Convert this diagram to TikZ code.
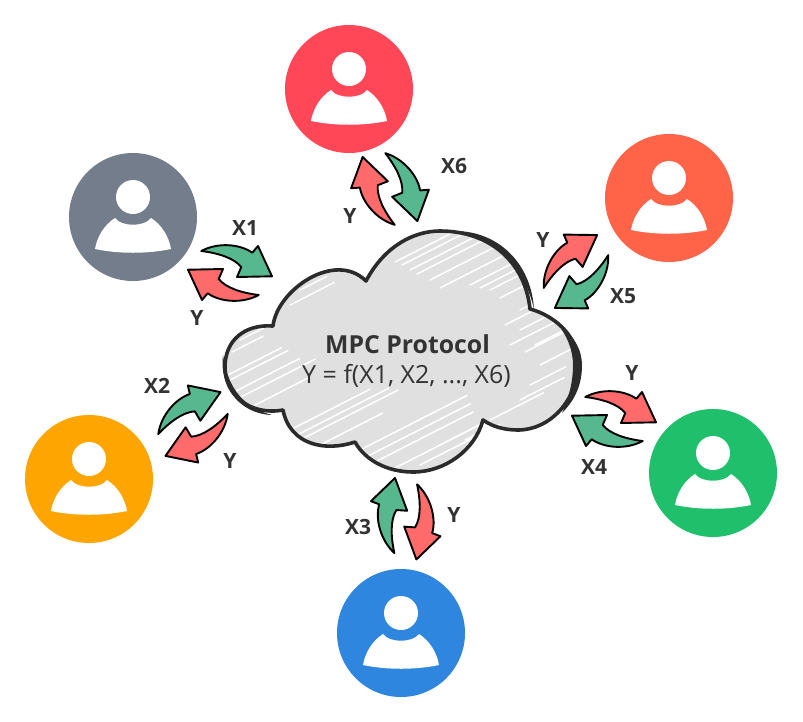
\documentclass[tikz,border=0pt]{standalone}
\usepackage{fontspec}
\setmainfont{Open Sans}
\definecolor{flowgreen}{HTML}{57B78F}
\definecolor{flowred}{HTML}{FF6B6B}
\definecolor{cloudgrey}{HTML}{E0E0E0}
\definecolor{inkgrey}{HTML}{333333}
\definecolor{inkdark}{HTML}{2B2B2B}
\definecolor{userred}{HTML}{FF4757}
\definecolor{userslate}{HTML}{747D8C}
\definecolor{usercoral}{HTML}{FF6348}
\definecolor{usergreen}{HTML}{20BF6B}
\definecolor{userorange}{HTML}{FFA502}
\definecolor{userblue}{HTML}{2E86DE}
\newcommand{\flowshape}{(-28.7,-22) .. controls (-12,-31) and (10,-29) .. (22.3,-20.3) -- (28,-27) -- (42,3.3) -- (7,4) -- (11.3,-6) .. controls (4,-15) and (-12,-20) .. (-28.7,-22) -- cycle}
\newcommand{\cloudshape}{(273,326) .. controls (277,290) and (335,250) .. (366,281)
    .. controls (385,245) and (415,231) .. (440,231) .. controls (490,231) and (525,262) .. (530,309)
    .. controls (553,315) and (578,335) .. (578,363) .. controls (578,400) and (550,430) .. (518,430) .. controls (505,430) and (493,427) .. (483,420)
    .. controls (475,450) and (445,472) .. (413,472) .. controls (387,472) and (365,460) .. (355,442)
    .. controls (325,452) and (290,445) .. (283,410)
    .. controls (250,416) and (225,395) .. (225,367) .. controls (225,340) and (245,324) .. (273,326) -- cycle}
\tikzset{
    person/.style={circle, minimum size=128pt, inner sep=0pt},
    flowarrow/.style={draw=black, line width=1.9pt, line join=round},
    flowlabel/.style={font=\fontsize{21}{24}\selectfont\bfseries, text=inkgrey, inner sep=0pt},
    personpic/.pic={
        \fill[white] (0,-20) circle (17);
        \fill[white] (-18,1) .. controls (-12,10) and (12,10) .. (18,1) .. controls (29,8) and (36,20) .. (38,32) .. controls (14,37) and (-14,37) .. (-38,32) .. controls (-36,20) and (-29,8) .. (-18,1) -- cycle;
    },
    arrowpair/.pic={
        \draw[flowarrow, fill=flowgreen] \flowshape;
        \draw[flowarrow, fill=flowred, rotate=180] \flowshape;
    }
}
\begin{document}
\begin{tikzpicture}[x=1pt, y=-1pt]
    \useasboundingbox (0,0) rectangle (803,721);
    \node[person, fill=userred] (userX6) at (349,89) {};
    \node[person, fill=userslate] (userX1) at (133,217) {};
    \node[person, fill=usercoral] (userX5) at (669,198) {};
    \node[person, fill=usergreen] (userX4) at (713,473) {};
    \node[person, fill=userorange] (userX2) at (89,479) {};
    \node[person, fill=userblue] (userX3) at (401,633) {};
    \foreach \user in {userX1,userX2,userX3,userX4,userX5,userX6}
        \pic at (\user) {personpic};
    \fill[cloudgrey] \cloudshape;
    \begin{scope}
        \clip \cloudshape;
        \foreach \x/\y/\len in {395/262/90,402/265/100,410/270/110,417/274/95,430/280/100,440/288/90,470/285/65,480/288/55,490/290/50,500/298/40,520/310/30,505/325/60,520/330/55,535/345/45,510/345/65,525/352/50,540/365/40,228/375/60,230/380/65,228/395/80,235/400/90,240/340/30,232/352/35,255/405/60,290/430/90,295/436/105,300/440/110,320/445/70,360/450/120,368/456/115,375/462/110,395/468/100,420/465/90,440/445/50,465/440/30,490/420/60,520/400/50,530/385/40,300/290/30,290/305/50}
            \draw[white, line width=1.5pt, line cap=round] (\x,\y) to ++(27:\len pt);
    \end{scope}
    \draw[inkdark, line width=3.6pt, line join=round] \cloudshape;
    \fill[inkdark] (455,231) .. controls (497,231) and (531,262) .. (534,309) .. controls (524,265) and (492,238) .. (455,231) -- cycle;
    \fill[inkdark] (556,322) .. controls (574,335) and (582,350) .. (582,365) .. controls (582,385) and (575,400) .. (562,413) .. controls (570,395) and (573,380) .. (573,365) .. controls (573,350) and (567,335) .. (556,322) -- cycle;
    \fill[inkdark] (223,355) .. controls (219,387) and (240,414) .. (272,415) .. controls (245,408) and (228,390) .. (223,355) -- cycle;
    \node[font=\fontsize{24.8}{28}\selectfont\bfseries, text=inkgrey, anchor=base] (title) at (407.5,353) {MPC Protocol};
    \node[font=\fontsize{25}{28}\selectfont, text=inkgrey, anchor=base] (formula) at (406.5,383) {Y = f(X1, X2, ..., X6)};
    \pic[rotate=0] at (230,273) {arrowpair};
    \pic[rotate=-45] at (390,189) {arrowpair};
    \pic[rotate=-115.6] at (576,271.5) {arrowpair};
    \pic[rotate=-180] at (614,419) {arrowpair};
    \pic[rotate=109.2] at (405.7,518.7) {arrowpair};
    \pic[rotate=53.7] at (193,424) {arrowpair};
    \node[flowlabel] (labelXa) at (245,228) {X1};
    \node[flowlabel] (labelYa) at (197,318) {Y};
    \node[flowlabel] (labelXb) at (157,386) {X2};
    \node[flowlabel] (labelYb) at (230,461) {Y};
    \node[flowlabel] (labelXc) at (358,527) {X3};
    \node[flowlabel] (labelYc) at (454,515) {Y};
    \node[flowlabel] (labelXd) at (594,467) {X4};
    \node[flowlabel] (labelYd) at (632,373) {Y};
    \node[flowlabel] (labelXe) at (623,296) {X5};
    \node[flowlabel] (labelYe) at (543,240) {Y};
    \node[flowlabel] (labelXf) at (454,166) {X6};
    \node[flowlabel] (labelYf) at (350,216) {Y};
\end{tikzpicture}
\end{document}
